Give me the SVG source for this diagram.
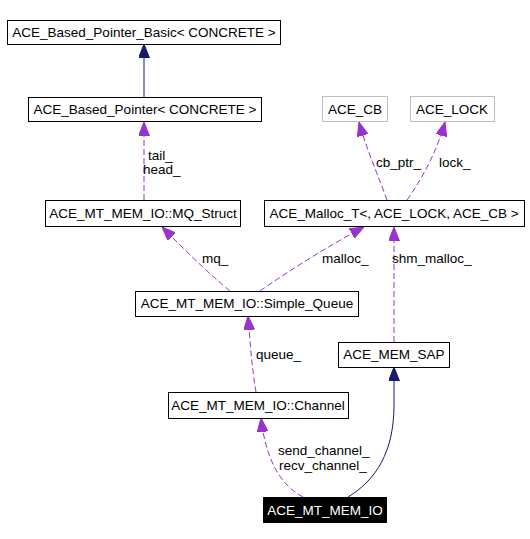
<svg xmlns="http://www.w3.org/2000/svg" width="530" height="539" viewBox="0 0 530 539">
<style>
text{font-family:"Liberation Sans",Arial,sans-serif;font-size:13.5px;fill:#000}
.n text{text-anchor:middle}
.box{fill:#fff;stroke:#000;stroke-width:1}
.gray{fill:#fff;stroke:#bfbfbf;stroke-width:1}
.dark{fill:#000;stroke:#000}
.inh{fill:none;stroke:#191970;stroke-width:1}
.use{fill:none;stroke:#9a32cd;stroke-width:1;stroke-dasharray:6,3}
</style>
<defs>
<marker id="aNavy" markerUnits="userSpaceOnUse" viewBox="0 0 14 11" refX="14" refY="5.5" markerWidth="14" markerHeight="11" orient="auto"><path d="M0,0 L14,5.5 L0,11 z" fill="#191970" stroke="#191970"/></marker>
<marker id="aPurp" markerUnits="userSpaceOnUse" viewBox="0 0 14 11" refX="14" refY="5.5" markerWidth="14" markerHeight="11" orient="auto"><path d="M0,0 L14,5.5 L0,11 z" fill="#9a32cd" stroke="#9a32cd"/></marker>
</defs>
<rect width="530" height="539" fill="#fff"/>
<g id="edges">
<path class="inh" d="M144,97 L144,44" marker-end="url(#aNavy)"/>
<path class="use" d="M144,200 L144,122" marker-end="url(#aPurp)"/>
<path class="use" d="M387,200 C380,180 366,148 359,122" marker-end="url(#aPurp)"/>
<path class="use" d="M407,200 C420,182 437,152 445,122" marker-end="url(#aPurp)"/>
<path class="use" d="M230,291 C210,275 185,250 162,227" marker-end="url(#aPurp)"/>
<path class="use" d="M260,291 C290,270 330,245 364,227" marker-end="url(#aPurp)"/>
<path class="use" d="M394,342 L394,227" marker-end="url(#aPurp)"/>
<path class="use" d="M256,392 C252,370 250,340 248,316" marker-end="url(#aPurp)"/>
<path class="use" d="M303,497 C282,486 266,462 261,418" marker-end="url(#aPurp)"/>
<path class="inh" d="M348,497 C376,480 394,452 394,405 L394,367" marker-end="url(#aNavy)"/>
<text x="148" y="160">tail_</text>
<text x="143" y="174">head_</text>
<text x="376" y="167">cb_ptr_</text>
<text x="439" y="167">lock_</text>
<text x="202" y="263">mq_</text>
<text x="322" y="263">malloc_</text>
<text x="392" y="263">shm_malloc_</text>
<text x="256" y="359">queue_</text>
<text x="278" y="455">send_channel_</text>
<text x="279" y="470">recv_channel_</text>
</g>
<g id="n_basic" class="n"><rect class="box" x="7.5" y="20.5" width="273" height="24"/><text x="144" y="37">ACE_Based_Pointer_Basic&lt; CONCRETE &gt;</text></g>
<g id="n_based" class="n"><rect class="box" x="28.5" y="97.5" width="233" height="24"/><text x="145" y="114">ACE_Based_Pointer&lt; CONCRETE &gt;</text></g>
<g id="n_cb" class="n"><rect class="gray" x="322.5" y="96.5" width="65" height="25"/><text x="355" y="114">ACE_CB</text></g>
<g id="n_lock" class="n"><rect class="gray" x="410.5" y="96.5" width="84" height="25"/><text x="452" y="114">ACE_LOCK</text></g>
<g id="n_malloc" class="n"><rect class="box" x="264.5" y="200.5" width="260" height="26"/><text x="394" y="218">ACE_Malloc_T&lt;, ACE_LOCK, ACE_CB &gt;</text></g>
<g id="n_mq" class="n"><rect class="box" x="45.5" y="200.5" width="195" height="26"/><text x="143" y="218">ACE_MT_MEM_IO::MQ_Struct</text></g>
<g id="n_sq" class="n"><rect class="box" x="135.5" y="291.5" width="223" height="25"/><text x="247" y="308">ACE_MT_MEM_IO::Simple_Queue</text></g>
<g id="n_sap" class="n"><rect class="box" x="338.5" y="342.5" width="111" height="25"/><text x="394" y="359">ACE_MEM_SAP</text></g>
<g id="n_chan" class="n"><rect class="box" x="168.5" y="392.5" width="180" height="26"/><text x="258" y="410">ACE_MT_MEM_IO::Channel</text></g>
<g id="n_io" class="n"><rect class="dark" x="263.5" y="497.5" width="123" height="25"/><text x="325" y="515" style="fill:#fff">ACE_MT_MEM_IO</text></g>
</svg>
